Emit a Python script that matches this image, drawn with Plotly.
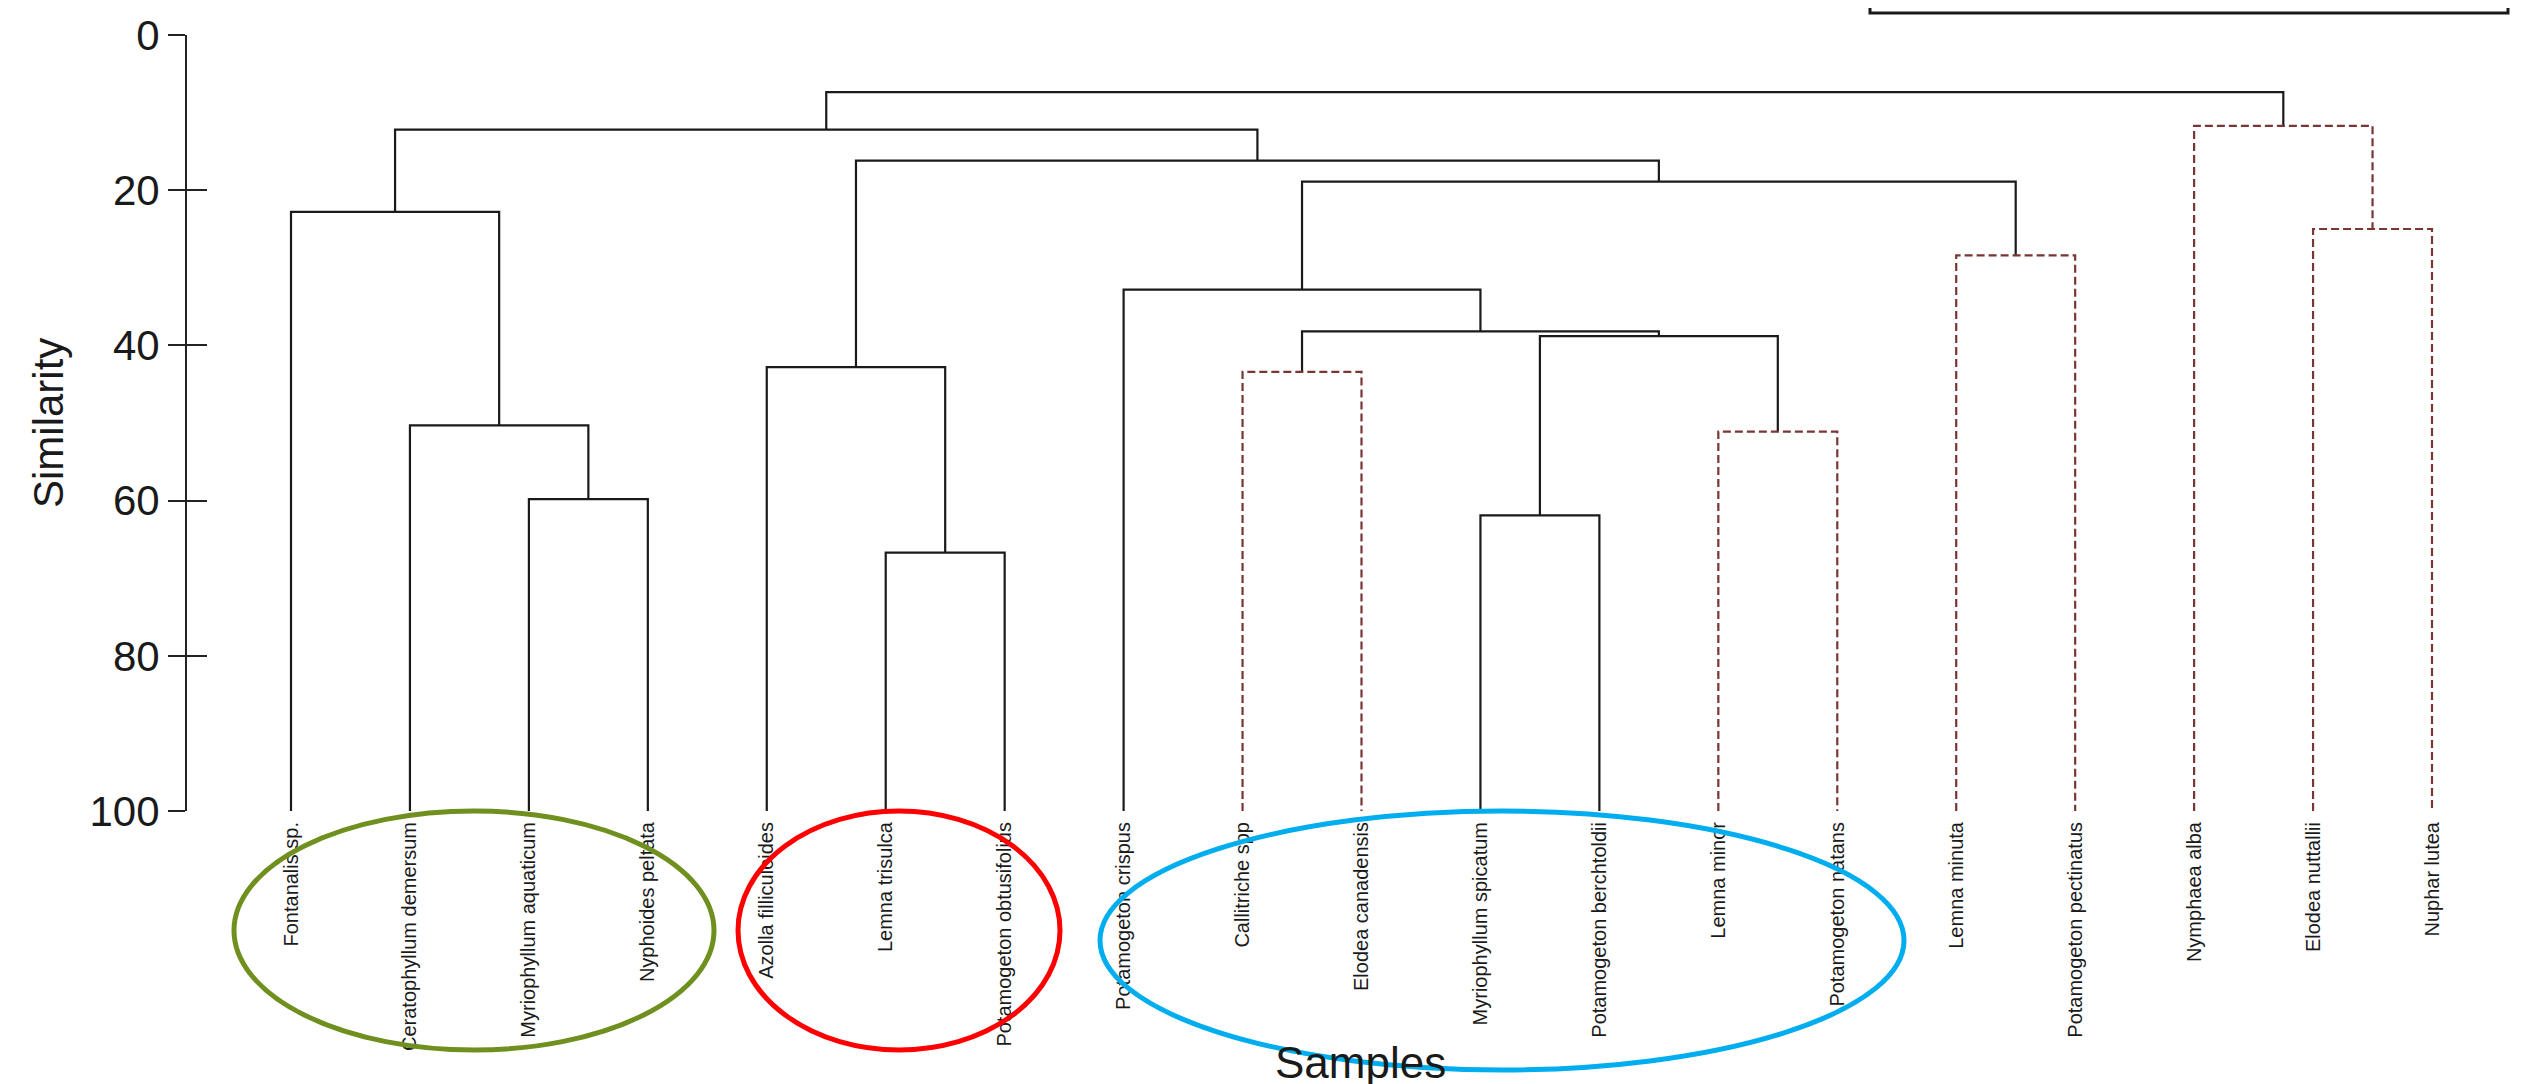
import plotly.graph_objects as go

# ---------------- data ----------------
leaves = ["Fontanalis sp.", "Ceratophyllum demersum", "Myriophyllum aquaticum", "Nyphoides peltata",
          "Azolla filliculoides", "Lemna trisulca", "Potamogeton obtusifolius", "Potamogeton crispus",
          "Callitriche spp", "Elodea canadensis", "Myriophyllum spicatum", "Potamogeton berchtoldii",
          "Lemna minor", "Potamogeton natans", "Lemna minuta", "Potamogeton pectinatus",
          "Nymphaea alba", "Elodea nuttallii", "Nuphar lutea"]

# linkage: leaves are 0..18, each merge creates node 19, 20, ...
merge_left = [2, 1, 0, 5, 4, 10, 12, 24, 8, 27, 7, 14, 29, 23, 21, 17, 16, 33]
merge_right = [3, 19, 20, 6, 22, 11, 13, 25, 9, 26, 28, 15, 30, 31, 32, 18, 34, 35]
merge_similarity = [59.8, 50.3, 22.8, 66.7, 42.8, 61.9, 51.1, 38.8, 43.4, 38.2,
                    32.8, 28.4, 18.9, 16.2, 12.2, 25.0, 11.7, 7.35]
merge_dashed = [False, False, False, False, False, False, True, False, True, False,
                False, True, False, False, False, True, True, False]

y_ticks = [0, 20, 40, 60, 80, 100]

# ---------------- layout constants ----------------
W, H = 2534, 1084
ML, MR, MT, MB = 179, 60, 27, 281
PW, PH = W - ML - MR, H - MT - MB


def px_x(p):
    return (p - ML) / PW


def px_y(p):
    return (H - MB - p) / PH


# ---------------- build dendrogram segments ----------------
pos = [i + 1 for i in range(len(leaves))]
hgt = [100.0] * len(leaves)
solid_x, solid_y, dash_x, dash_y = [], [], [], []
for l, r, h, d in zip(merge_left, merge_right, merge_similarity, merge_dashed):
    xl, xr = pos[l], pos[r]
    xs = [xl, xl, xr, xr, None]
    ys = [hgt[l], h, h, hgt[r], None]
    if d:
        dash_x += xs
        dash_y += ys
    else:
        solid_x += xs
        solid_y += ys
    pos.append((xl + xr) / 2)
    hgt.append(h)

fig = go.Figure()
fig.add_trace(go.Scatter(x=solid_x, y=solid_y, mode="lines", cliponaxis=False,
                         line=dict(color="#1a1a1a", width=2.2), showlegend=False, hoverinfo="skip"))
fig.add_trace(go.Scatter(x=dash_x, y=dash_y, mode="lines", cliponaxis=False,
                         line=dict(color="#7a3535", width=2.2, dash="8px,4px"),
                         showlegend=False, hoverinfo="skip"))
fig.add_trace(go.Scatter(x=[None], y=[None], yaxis="y2", showlegend=False, hoverinfo="skip"))

FONT = "Arial, Liberation Sans, sans-serif"

fig.update_layout(
    width=W, height=H,
    margin=dict(l=ML, r=MR, t=MT, b=MB, pad=0, autoexpand=False),
    paper_bgcolor="white", plot_bgcolor="white",
    font=dict(family=FONT, color="#1a1a1a"),
    xaxis=dict(range=[1 - 104 / 118.95, 19 + 50 / 118.95], tickmode="array",
               tickvals=pos[:len(leaves)], ticktext=leaves, tickangle=-90,
               tickfont=dict(size=20, family=FONT, color="#1a1a1a"),
               showline=False, showgrid=False, zeroline=False, ticks="",
               ticklabelstandoff=6, automargin=False),
    yaxis=dict(range=[100, 0], tickmode="array", tickvals=y_ticks,
               ticks="outside", ticklen=17, tickwidth=2, tickcolor="#222",
               showline=True, linewidth=2, linecolor="#222",
               tickfont=dict(size=42, family=FONT, color="#1a1a1a"),
               showgrid=False, zeroline=False, automargin=False),
    yaxis2=dict(range=[100, 0], overlaying="y", anchor="x", side="left",
                tickmode="array", tickvals=y_ticks, ticks="inside", ticklen=20,
                tickwidth=2, tickcolor="#222", showticklabels=False,
                showline=False, showgrid=False, zeroline=False, automargin=False),
    annotations=[
        dict(text="Similarity", xref="paper", yref="paper", x=px_x(40), y=0.5,
             textangle=-90, showarrow=False, font=dict(size=42, family=FONT, color="#1a1a1a"),
             xanchor="center", yanchor="middle"),
        dict(text="Samples", xref="paper", yref="paper", x=px_x(1352), y=px_y(1080),
             showarrow=False, font=dict(size=44, family=FONT, color="#1a1a1a"),
             xanchor="center", yanchor="bottom", borderpad=0),
    ],
    shapes=[
        dict(type="circle", xref="paper", yref="paper", x0=px_x(226), x1=px_x(706),
             y0=px_y(803), y1=px_y(1042), line=dict(color="#6f8f1e", width=5), layer="above"),
        dict(type="circle", xref="paper", yref="paper", x0=px_x(730), x1=px_x(1052),
             y0=px_y(803), y1=px_y(1042), line=dict(color="#ff0000", width=5), layer="above"),
        dict(type="circle", xref="paper", yref="paper", x0=px_x(1092), x1=px_x(1896),
             y0=px_y(803), y1=px_y(1062), line=dict(color="#00aeef", width=5), layer="above"),
        dict(type="rect", xref="paper", yref="paper", x0=px_x(1862), x1=px_x(2500),
             y0=px_y(5), y1=px_y(-30), line=dict(color="#1a1a1a", width=3),
             fillcolor="rgba(0,0,0,0)", layer="above"),
    ],
)

fig.write_html("out.html")
